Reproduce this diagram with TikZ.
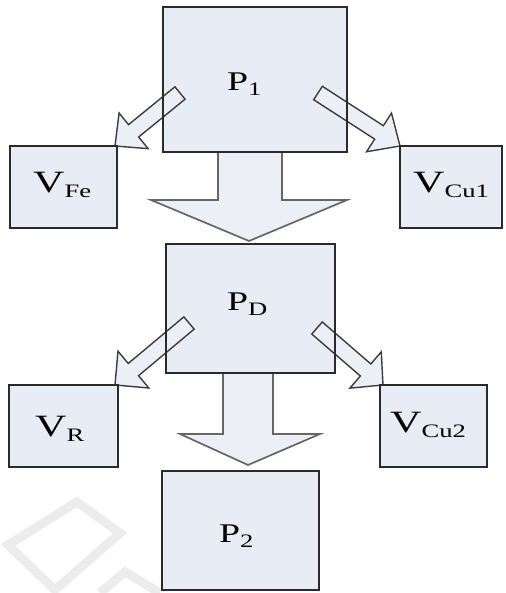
\documentclass[tikz,border=0pt]{standalone}
\usepackage{fontspec}
\setmainfont{Liberation Serif}
\usetikzlibrary{calc}
\definecolor{boxfill}{HTML}{E8EDF5}
\definecolor{arrfill}{HTML}{ECEFF6}
\definecolor{boxline}{HTML}{2A2A2A}
\definecolor{bigline}{HTML}{666666}
\definecolor{smline}{HTML}{3C3C3C}
\definecolor{wmark}{HTML}{ECECEC}
\newcommand\mylab[3]{\scalebox{1.4}[1]{\fontsize{#1}{#1}\selectfont #2\raisebox{-5pt}{\fontsize{19}{19}\selectfont #3}}}
\newcommand\smarrow[5]{%
  \path ($(#2)!#5!(#1)$) coordinate (H);
  \filldraw[smallarr] ($(#1)!#3!90:(#2)$) -- ($(H)!#3!90:(#2)$) -- ($(H)!#4!90:(#2)$) -- (#2)
    -- ($(H)!#4!-90:(#2)$) -- ($(H)!#3!-90:(#2)$) -- ($(#1)!#3!-90:(#2)$) -- cycle;}
\begin{document}
\begin{tikzpicture}[x=1pt,y=-1pt,
  box/.style={fill=boxfill, draw=none, inner sep=0pt, outer sep=0pt},
  boxedge/.style={draw=boxline, line width=1.5pt},
  bigarrow/.style={draw=bigline, line width=1.7pt, line join=miter},
  smallarr/.style={draw=smline, fill=arrfill, line width=1.4pt, line join=miter},
  lbl/.style={inner sep=0pt, anchor=base west, text=black}]
\useasboundingbox (0,0) rectangle (505,593);
% watermark
\draw[wmark, line width=9pt, line join=miter] (8,545) -- (77,502) -- (120,533) -- (55,590) -- cycle;
\draw[wmark, line width=9pt] (100,593) -- (125,572) -- (160,593);
% boxes
\node[box, minimum width=184pt, minimum height=145pt] (p1) at (255,79.5) {};
\node[box, minimum width=107pt, minimum height=82pt] (vfe) at (63.5,187) {};
\node[box, minimum width=102pt, minimum height=82pt] (vcu1) at (451,187) {};
\node[box, minimum width=169pt, minimum height=129pt] (pd) at (250.5,308.5) {};
\node[box, minimum width=109pt, minimum height=82pt] (vr) at (63.5,426) {};
\node[box, minimum width=107pt, minimum height=82pt] (vcu2) at (433.5,426) {};
\node[box, minimum width=157pt, minimum height=119pt] (p2) at (240.5,530.5) {};
% big arrows
\coordinate (b1tip) at (249,241);
\coordinate (b2tip) at (248,465);
\fill[arrfill] (218,152) -- (218,200) -- (151,200) -- (b1tip) -- (347,200) -- (282,200) -- (282,152) -- cycle;
\draw[bigarrow] (218,152) -- (218,200) -- (151,200) -- (b1tip) -- (347,200) -- (282,200) -- (282,152);
\fill[arrfill] (223,373) -- (223,434) -- (180,434) -- (b2tip) -- (320,434) -- (273,434) -- (273,373) -- cycle;
\draw[bigarrow] (223,373) -- (223,434) -- (180,434) -- (b2tip) -- (320,434) -- (273,434) -- (273,373);
% small arrows
\coordinate (a1t) at (180,93);  \coordinate (a1h) at (115,146);
\coordinate (a2t) at (318,93);  \coordinate (a2h) at (400,146);
\coordinate (a3t) at (189,323); \coordinate (a3h) at (115,385);
\coordinate (a4t) at (317,328); \coordinate (a4h) at (383,385);
\smarrow{a1t}{a1h}{8pt}{23pt}{24pt}
\smarrow{a2t}{a2h}{8pt}{23pt}{25pt}
\smarrow{a3t}{a3h}{8pt}{24pt}{24pt}
\smarrow{a4t}{a4h}{8pt}{24pt}{23pt}
% box outlines
\foreach \n in {p1,vfe,vcu1,pd,vr,vcu2,p2}
  \draw[boxedge] (\n.north west) rectangle (\n.south east);
% labels
\node[lbl] (t1) at (227,91) {\mylab{27}{P}{1}};
\node[lbl] (t2) at (33,193) {\mylab{31}{V}{Fe}};
\node[lbl] (t3) at (413,193) {\mylab{31}{V}{Cu1}};
\node[lbl] (t4) at (227,310) {\mylab{27}{P}{D}};
\node[lbl] (t5) at (35,436) {\mylab{31}{V}{R}};
\node[lbl] (t6) at (390,432) {\mylab{31}{V}{Cu2}};
\node[lbl] (t7) at (219,542) {\mylab{27}{P}{2}};
\end{tikzpicture}
\end{document}
